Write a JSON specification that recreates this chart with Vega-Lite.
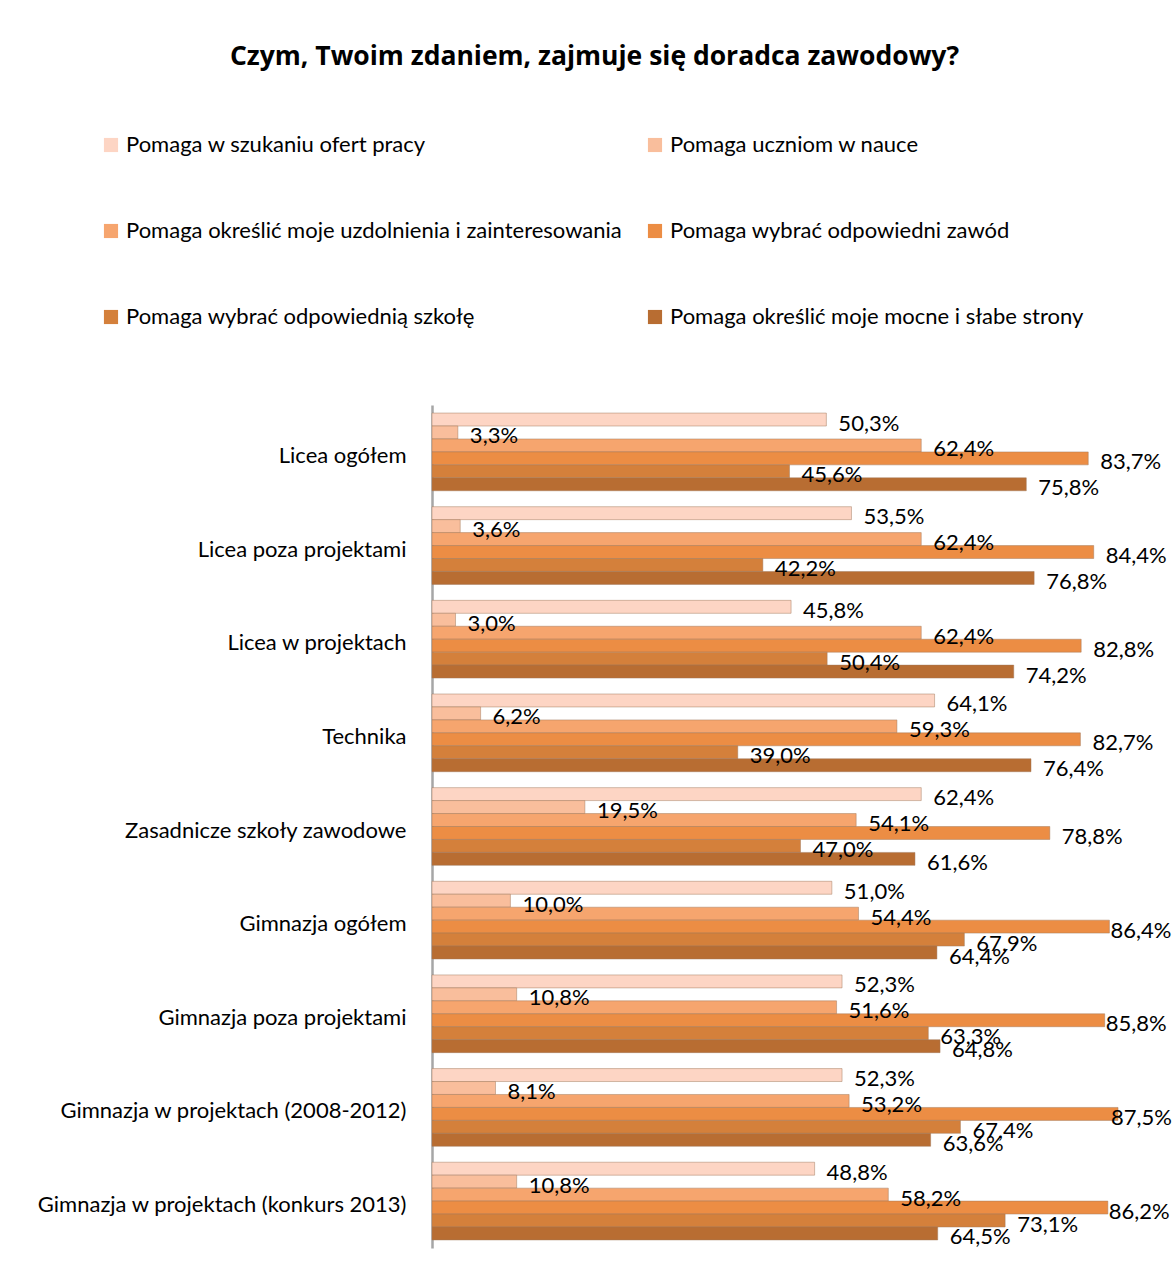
{
  "$schema": "https://vega.github.io/schema/vega-lite/v6.json",
  "autosize": "none",
  "width": 737,
  "height": 843,
  "padding": {"left": 432, "top": 405, "right": 3, "bottom": 30},
  "background": "white",
  "config": {
    "font": "Lato",
    "view": {"stroke": null},
    "locale": {"number": {"decimal": ",", "thousands": " ", "grouping": [3], "currency": ["", " zł"]}}
  },
  "title": {
    "text": "Czym, Twoim zdaniem, zajmuje się doradca zawodowy?",
    "fontSize": 26.5,
    "fontWeight": "bold",
    "font": "Open Sans",
    "color": "#000000",
    "anchor": "middle",
    "frame": "group",
    "dx": -206,
    "offset": 64
  },
  "data": {
    "values": [
      {"grupa": "Licea ogółem", "odpowiedz": "Pomaga w szukaniu ofert pracy", "wartosc": 0.503},
      {"grupa": "Licea ogółem", "odpowiedz": "Pomaga uczniom w nauce", "wartosc": 0.033},
      {"grupa": "Licea ogółem", "odpowiedz": "Pomaga określić moje uzdolnienia i zainteresowania", "wartosc": 0.624},
      {"grupa": "Licea ogółem", "odpowiedz": "Pomaga wybrać odpowiedni zawód", "wartosc": 0.837},
      {"grupa": "Licea ogółem", "odpowiedz": "Pomaga wybrać odpowiednią szkołę", "wartosc": 0.456},
      {"grupa": "Licea ogółem", "odpowiedz": "Pomaga określić moje mocne i słabe strony", "wartosc": 0.758},
      {"grupa": "Licea poza projektami", "odpowiedz": "Pomaga w szukaniu ofert pracy", "wartosc": 0.535},
      {"grupa": "Licea poza projektami", "odpowiedz": "Pomaga uczniom w nauce", "wartosc": 0.036},
      {"grupa": "Licea poza projektami", "odpowiedz": "Pomaga określić moje uzdolnienia i zainteresowania", "wartosc": 0.624},
      {"grupa": "Licea poza projektami", "odpowiedz": "Pomaga wybrać odpowiedni zawód", "wartosc": 0.844},
      {"grupa": "Licea poza projektami", "odpowiedz": "Pomaga wybrać odpowiednią szkołę", "wartosc": 0.422},
      {"grupa": "Licea poza projektami", "odpowiedz": "Pomaga określić moje mocne i słabe strony", "wartosc": 0.768},
      {"grupa": "Licea w projektach", "odpowiedz": "Pomaga w szukaniu ofert pracy", "wartosc": 0.458},
      {"grupa": "Licea w projektach", "odpowiedz": "Pomaga uczniom w nauce", "wartosc": 0.030},
      {"grupa": "Licea w projektach", "odpowiedz": "Pomaga określić moje uzdolnienia i zainteresowania", "wartosc": 0.624},
      {"grupa": "Licea w projektach", "odpowiedz": "Pomaga wybrać odpowiedni zawód", "wartosc": 0.828},
      {"grupa": "Licea w projektach", "odpowiedz": "Pomaga wybrać odpowiednią szkołę", "wartosc": 0.504},
      {"grupa": "Licea w projektach", "odpowiedz": "Pomaga określić moje mocne i słabe strony", "wartosc": 0.742},
      {"grupa": "Technika", "odpowiedz": "Pomaga w szukaniu ofert pracy", "wartosc": 0.641},
      {"grupa": "Technika", "odpowiedz": "Pomaga uczniom w nauce", "wartosc": 0.062},
      {"grupa": "Technika", "odpowiedz": "Pomaga określić moje uzdolnienia i zainteresowania", "wartosc": 0.593},
      {"grupa": "Technika", "odpowiedz": "Pomaga wybrać odpowiedni zawód", "wartosc": 0.827},
      {"grupa": "Technika", "odpowiedz": "Pomaga wybrać odpowiednią szkołę", "wartosc": 0.390},
      {"grupa": "Technika", "odpowiedz": "Pomaga określić moje mocne i słabe strony", "wartosc": 0.764},
      {"grupa": "Zasadnicze szkoły zawodowe", "odpowiedz": "Pomaga w szukaniu ofert pracy", "wartosc": 0.624},
      {"grupa": "Zasadnicze szkoły zawodowe", "odpowiedz": "Pomaga uczniom w nauce", "wartosc": 0.195},
      {"grupa": "Zasadnicze szkoły zawodowe", "odpowiedz": "Pomaga określić moje uzdolnienia i zainteresowania", "wartosc": 0.541},
      {"grupa": "Zasadnicze szkoły zawodowe", "odpowiedz": "Pomaga wybrać odpowiedni zawód", "wartosc": 0.788},
      {"grupa": "Zasadnicze szkoły zawodowe", "odpowiedz": "Pomaga wybrać odpowiednią szkołę", "wartosc": 0.470},
      {"grupa": "Zasadnicze szkoły zawodowe", "odpowiedz": "Pomaga określić moje mocne i słabe strony", "wartosc": 0.616},
      {"grupa": "Gimnazja ogółem", "odpowiedz": "Pomaga w szukaniu ofert pracy", "wartosc": 0.510},
      {"grupa": "Gimnazja ogółem", "odpowiedz": "Pomaga uczniom w nauce", "wartosc": 0.100},
      {"grupa": "Gimnazja ogółem", "odpowiedz": "Pomaga określić moje uzdolnienia i zainteresowania", "wartosc": 0.544},
      {"grupa": "Gimnazja ogółem", "odpowiedz": "Pomaga wybrać odpowiedni zawód", "wartosc": 0.864},
      {"grupa": "Gimnazja ogółem", "odpowiedz": "Pomaga wybrać odpowiednią szkołę", "wartosc": 0.679},
      {"grupa": "Gimnazja ogółem", "odpowiedz": "Pomaga określić moje mocne i słabe strony", "wartosc": 0.644},
      {"grupa": "Gimnazja poza projektami", "odpowiedz": "Pomaga w szukaniu ofert pracy", "wartosc": 0.523},
      {"grupa": "Gimnazja poza projektami", "odpowiedz": "Pomaga uczniom w nauce", "wartosc": 0.108},
      {"grupa": "Gimnazja poza projektami", "odpowiedz": "Pomaga określić moje uzdolnienia i zainteresowania", "wartosc": 0.516},
      {"grupa": "Gimnazja poza projektami", "odpowiedz": "Pomaga wybrać odpowiedni zawód", "wartosc": 0.858},
      {"grupa": "Gimnazja poza projektami", "odpowiedz": "Pomaga wybrać odpowiednią szkołę", "wartosc": 0.633},
      {"grupa": "Gimnazja poza projektami", "odpowiedz": "Pomaga określić moje mocne i słabe strony", "wartosc": 0.648},
      {"grupa": "Gimnazja w projektach (2008-2012)", "odpowiedz": "Pomaga w szukaniu ofert pracy", "wartosc": 0.523},
      {"grupa": "Gimnazja w projektach (2008-2012)", "odpowiedz": "Pomaga uczniom w nauce", "wartosc": 0.081},
      {"grupa": "Gimnazja w projektach (2008-2012)", "odpowiedz": "Pomaga określić moje uzdolnienia i zainteresowania", "wartosc": 0.532},
      {"grupa": "Gimnazja w projektach (2008-2012)", "odpowiedz": "Pomaga wybrać odpowiedni zawód", "wartosc": 0.875},
      {"grupa": "Gimnazja w projektach (2008-2012)", "odpowiedz": "Pomaga wybrać odpowiednią szkołę", "wartosc": 0.674},
      {"grupa": "Gimnazja w projektach (2008-2012)", "odpowiedz": "Pomaga określić moje mocne i słabe strony", "wartosc": 0.636},
      {"grupa": "Gimnazja w projektach (konkurs 2013)", "odpowiedz": "Pomaga w szukaniu ofert pracy", "wartosc": 0.488},
      {"grupa": "Gimnazja w projektach (konkurs 2013)", "odpowiedz": "Pomaga uczniom w nauce", "wartosc": 0.108},
      {"grupa": "Gimnazja w projektach (konkurs 2013)", "odpowiedz": "Pomaga określić moje uzdolnienia i zainteresowania", "wartosc": 0.582},
      {"grupa": "Gimnazja w projektach (konkurs 2013)", "odpowiedz": "Pomaga wybrać odpowiedni zawód", "wartosc": 0.862},
      {"grupa": "Gimnazja w projektach (konkurs 2013)", "odpowiedz": "Pomaga wybrać odpowiednią szkołę", "wartosc": 0.731},
      {"grupa": "Gimnazja w projektach (konkurs 2013)", "odpowiedz": "Pomaga określić moje mocne i słabe strony", "wartosc": 0.645}
    ]
  },
  "encoding": {
    "y": {
      "field": "grupa",
      "type": "nominal",
      "sort": null,
      "scale": {"paddingInner": 0.17, "paddingOuter": 0.086},
      "axis": {
        "title": null,
        "labelFontSize": 22,
        "labelColor": "#000000",
        "labelPadding": 26,
        "labelOffset": 4,
        "ticks": false,
        "domainColor": "#A6A6A6",
        "domainWidth": 2.5,
        "labelLimit": 420
      }
    },
    "yOffset": {
      "field": "odpowiedz",
      "type": "nominal",
      "sort": [
        "Pomaga w szukaniu ofert pracy",
        "Pomaga uczniom w nauce",
        "Pomaga określić moje uzdolnienia i zainteresowania",
        "Pomaga wybrać odpowiedni zawód",
        "Pomaga wybrać odpowiednią szkołę",
        "Pomaga określić moje mocne i słabe strony"
      ]
    },
    "x": {
      "field": "wartosc",
      "type": "quantitative",
      "scale": {"domain": [0, 0.94], "nice": false},
      "axis": null
    }
  },
  "layer": [
    {
      "mark": {"type": "bar", "stroke": "#A0785A", "strokeWidth": 0.8, "strokeOpacity": 0.6},
      "encoding": {
        "color": {
          "field": "odpowiedz",
          "type": "nominal",
          "sort": [
            "Pomaga w szukaniu ofert pracy",
            "Pomaga uczniom w nauce",
            "Pomaga określić moje uzdolnienia i zainteresowania",
            "Pomaga wybrać odpowiedni zawód",
            "Pomaga wybrać odpowiednią szkołę",
            "Pomaga określić moje mocne i słabe strony"
          ],
          "scale": {
            "domain": [
              "Pomaga w szukaniu ofert pracy",
              "Pomaga uczniom w nauce",
              "Pomaga określić moje uzdolnienia i zainteresowania",
              "Pomaga wybrać odpowiedni zawód",
              "Pomaga wybrać odpowiednią szkołę",
              "Pomaga określić moje mocne i słabe strony"
            ],
            "range": ["#FDD5C4", "#F9BE9C", "#F6A56E", "#EC8D44", "#D4803B", "#B86D32"]
          },
          "legend": {
            "title": null,
            "orient": "none",
            "direction": "horizontal",
            "legendX": -332,
            "legendY": -271,
            "columns": 2,
            "columnPadding": 22,
            "rowPadding": 64,
            "symbolType": "square",
            "symbolSize": 200,
            "symbolStrokeWidth": 0,
            "labelFontSize": 22,
            "labelColor": "#000000",
            "labelLimit": 600,
            "labelOffset": 4
          }
        }
      }
    },
    {
      "transform": [{"filter": "datum.wartosc < 0.85"}],
      "mark": {"type": "text", "align": "left", "baseline": "middle", "dx": 12, "dy": 4, "fontSize": 22, "color": "#000000"},
      "encoding": {
        "text": {"field": "wartosc", "type": "quantitative", "format": ".1%"}
      }
    },
    {
      "transform": [{"filter": "datum.wartosc >= 0.85 && datum.wartosc < 0.87"}],
      "mark": {"type": "text", "align": "left", "baseline": "middle", "dx": 1, "dy": 4, "fontSize": 22, "color": "#000000"},
      "encoding": {
        "text": {"field": "wartosc", "type": "quantitative", "format": ".1%"}
      }
    },
    {
      "transform": [{"filter": "datum.wartosc >= 0.87"}],
      "mark": {"type": "text", "align": "left", "baseline": "middle", "dx": -7, "dy": 4, "fontSize": 22, "color": "#000000"},
      "encoding": {
        "text": {"field": "wartosc", "type": "quantitative", "format": ".1%"}
      }
    }
  ]
}
